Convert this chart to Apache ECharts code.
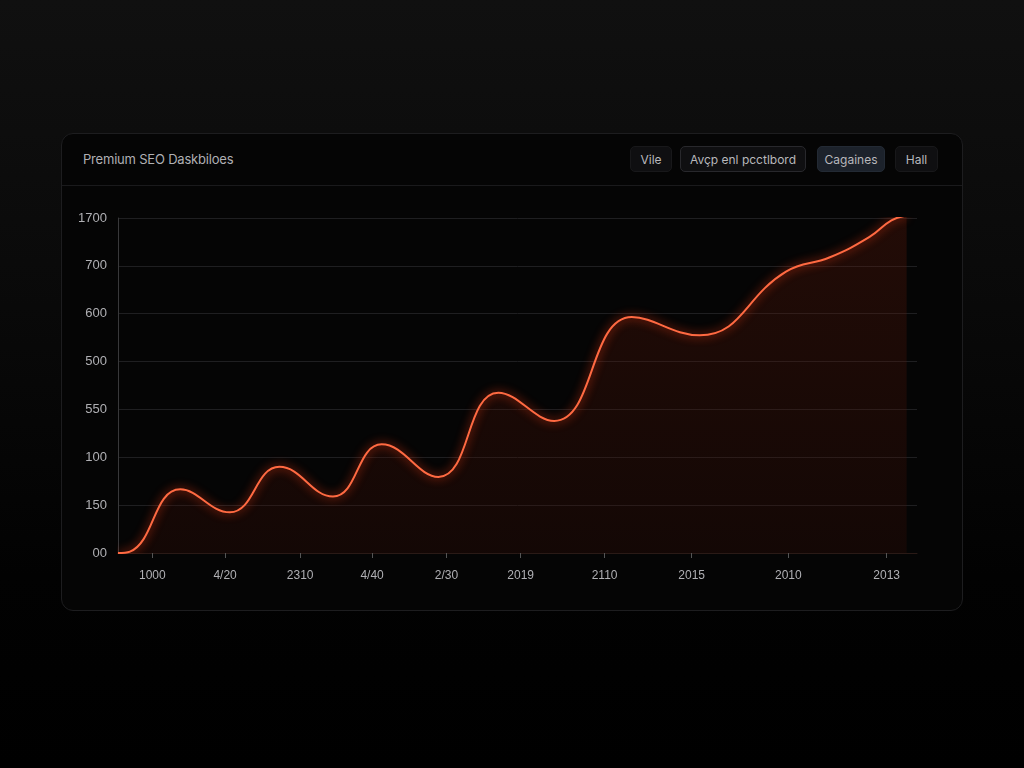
<!DOCTYPE html>
<html>
<head>
    <meta charset="utf-8">
    <title>Premium SEO Daskbiloes</title>
    <script src="https://cdn.jsdelivr.net/npm/echarts@6/dist/echarts.min.js"></script>
    <style>
        html, body { margin:0; padding:0; width:1024px; height:768px; overflow:hidden;
            background: linear-gradient(180deg, #101010 0%, #090909 40%, #020202 75%, #000 100%);
            font-family: Inter, "Noto Sans", sans-serif; }
        .panel { position:absolute; left:61px; top:133px; width:900px; height:476px;
            border:1px solid #1d1d1f; border-radius:12px; background:#050505; }
        .head { position:absolute; left:0; top:0; right:0; height:51px; border-bottom:1px solid #1a1a1c; }
        .title { position:absolute; left:21px; top:17px; color:#b0b0b4; font-size:13px; letter-spacing:-0.2px; }
        .btn { position:absolute; top:12px; height:26px; line-height:26px; font-size:12px; color:#b8b8bc;
            border-radius:5px; text-align:center; background:#0f0f11; border:1px solid #18181a; box-sizing:border-box; }
        #main { position:absolute; left:0; top:0; width:1024px; height:768px; }
    </style>
</head>
<body>
<div class="panel">
    <div class="head">
        <div class="title">Premium SEO Daskbiloes</div>
        <div class="btn" style="left:568px;width:42px;">Vile</div>
        <div class="btn" style="left:618px;width:126px;border-color:#28282c;">Avçp enl pcctlbord</div>
        <div class="btn" style="left:755px;width:68px;background:#1c222b;border-color:#232a34;">Cagaines</div>
        <div class="btn" style="left:833px;width:43px;">Hall</div>
    </div>
</div>
<div id="main"></div>
<script type="text/javascript">
    // tick labels (as printed in the picture)
    var yLabels = ['00', '150', '100', '550', '500', '600', '700', '1700'];
    var xTicks = [4.3, 13.4, 22.8, 31.8, 41.1, 50.4, 60.9, 71.8, 83.9, 96.2];
    var xLabels = ['1000', '4/20', '2310', '4/40', '2/30', '2019', '2110', '2015', '2010', '2013'];

    // series
    var xs = [0, 1.5, 7.8, 14.0, 20.2, 26.9, 33.0, 40.1, 47.6, 54.6, 64.3, 72.8, 83.6, 89.1, 94.1, 96.8, 98.7];
    var ys = [0, 3, 133, 85, 180, 118, 227, 159, 335, 276, 493, 455, 588, 618, 661, 695, 705];

    var points = [];
    for (var i = 0; i < xs.length; i++) {
        points.push([xs[i], ys[i]]);
    }

    var myChart = echarts.init(document.getElementById('main'));
    myChart.setOption({
        backgroundColor: 'transparent',
        animation: false,
        grid: { left: 118, right: 107, top: 218, bottom: 215 },
        xAxis: {
            type: 'value',
            min: 0,
            max: 100,
            axisLine: { show: true, lineStyle: { color: '#2a1a16' } },
            splitLine: { show: false },
            axisTick: {
                show: true,
                customValues: xTicks,
                length: 5,
                lineStyle: { color: '#555' }
            },
            axisLabel: {
                customValues: xTicks,
                color: '#b0b0b4',
                fontSize: 12,
                margin: 17,
                formatter: function (v) {
                    var k = xTicks.indexOf(v);
                    return k >= 0 ? xLabels[k] : '';
                }
            }
        },
        yAxis: {
            type: 'value',
            min: 0,
            max: 700,
            interval: 100,
            axisLine: { show: true, lineStyle: { color: '#38383a' } },
            axisTick: { show: false },
            splitLine: { lineStyle: { color: '#1f1f21' } },
            axisLabel: {
                color: '#b0b0b4',
                fontSize: 13,
                margin: 11,
                formatter: function (v) {
                    return yLabels[Math.round(v / 100)];
                }
            }
        },
        series: [{
            type: 'line',
            data: points,
            smooth: 0.45,
            symbol: 'none',
            lineStyle: {
                width: 2,
                color: '#ff6a42',
                shadowBlur: 10,
                shadowColor: 'rgba(255,60,20,0.95)'
            },
            areaStyle: {
                color: new echarts.graphic.LinearGradient(0, 0, 0, 1, [
                    { offset: 0, color: 'rgba(100,28,12,0.45)' },
                    { offset: 1, color: 'rgba(60,16,8,0.40)' }
                ])
            }
        }]
    });
</script>
</body>
</html>
